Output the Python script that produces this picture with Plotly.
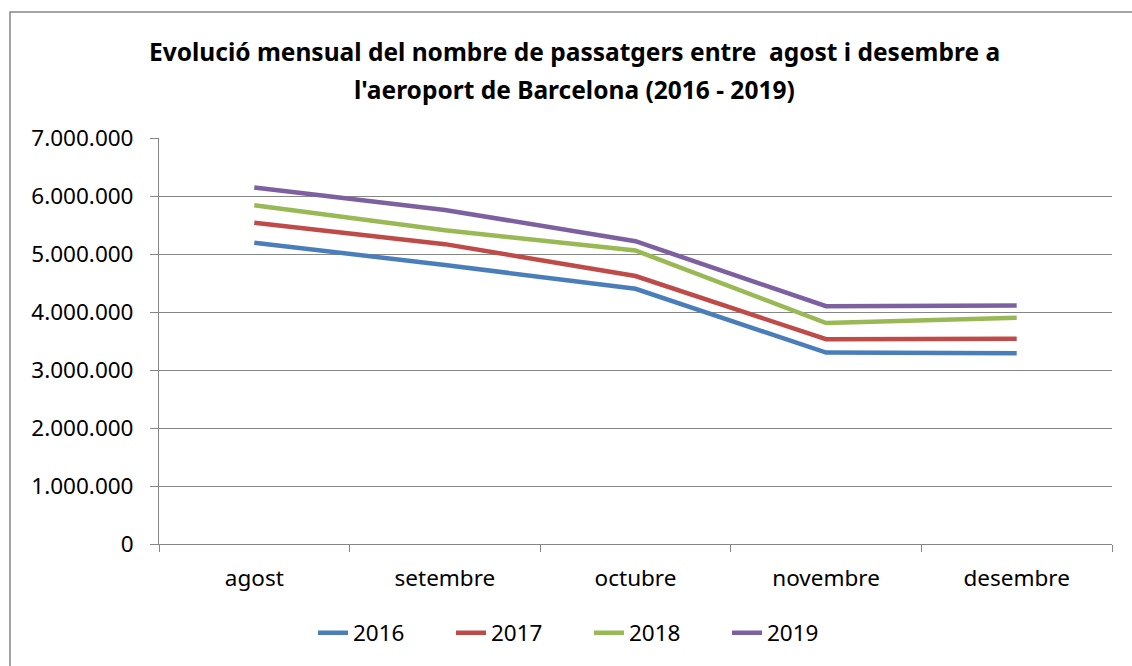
import plotly.graph_objects as go

months = ["agost", "setembre", "octubre", "novembre", "desembre"]
years = ["2016", "2017", "2018", "2019"]
v2016 = [5195000, 4810000, 4400000, 3300000, 3290000]
v2017 = [5540000, 5170000, 4620000, 3530000, 3540000]
v2018 = [5840000, 5410000, 5060000, 3810000, 3900000]
v2019 = [6145000, 5760000, 5220000, 4100000, 4110000]
colors = ["#4A7EBB", "#BE4B48", "#98B954", "#7D60A0"]
title_lines = ["Evolució mensual del nombre de passatgers entre  agost i desembre a",
               "l'aeroport de Barcelona (2016 - 2019)"]

series = [v2016, v2017, v2018, v2019]
FONT = "Noto Sans, sans-serif"
W, H = 1132, 666
L, R, T, B = 159, 20, 138, 122
PW, PH = W - L - R, H - T - B

def px(x):
    return (x - L) / PW

def py(y):
    return (H - B - y) / PH

fig = go.Figure()
for name, vals, c in zip(years, series, colors):
    fig.add_trace(go.Scatter(x=months, y=vals, name=name, mode="lines",
                             line=dict(color=c, width=4.5)))

fig.update_layout(
    width=W, height=H,
    paper_bgcolor="white", plot_bgcolor="white",
    separators=",.",
    margin=dict(l=L, r=R, t=T, b=B, autoexpand=False),
    font=dict(family=FONT, size=22.5, color="black"),
    legend=dict(orientation="h", x=px(313), xanchor="left", y=py(633), yanchor="middle",
                font=dict(size=22.5), entrywidth=93, entrywidthmode="pixels",
                tracegroupgap=0),
    showlegend=True,
)
for t, yc in zip(title_lines, [52, 90]):
    fig.add_annotation(text="<b>%s</b>" % t, xref="paper", yref="paper",
                       x=px(574), y=py(yc), xanchor="center", yanchor="middle",
                       showarrow=False, font=dict(family=FONT, size=24.5, color="black"))

fig.update_xaxes(showgrid=False, showline=True, linecolor="#868686", linewidth=1,
                 ticks="outside", tickcolor="#868686", ticklen=7,
                 tickson="boundaries", tickfont=dict(size=22.5), range=[-0.5, 4.5],
                 ticklabelstandoff=14)
fig.update_yaxes(range=[0, 7000000], dtick=1000000, tickformat=",d",
                 showgrid=True, gridcolor="#868686", gridwidth=1,
                 showline=True, linecolor="#868686", linewidth=1,
                 ticks="outside", tickcolor="#868686", ticklen=8,
                 tickfont=dict(size=22.5), zeroline=False, ticklabelstandoff=12)

# outer chart border
fig.add_shape(type="rect", xref="paper", yref="paper",
              x0=px(10), x1=px(1140), y0=py(680), y1=py(12),
              line=dict(color="#868686", width=1.5), layer="below")

fig.write_html("out.html", config={"displayModeBar": False},
               post_script="document.body.style.margin='0';")
